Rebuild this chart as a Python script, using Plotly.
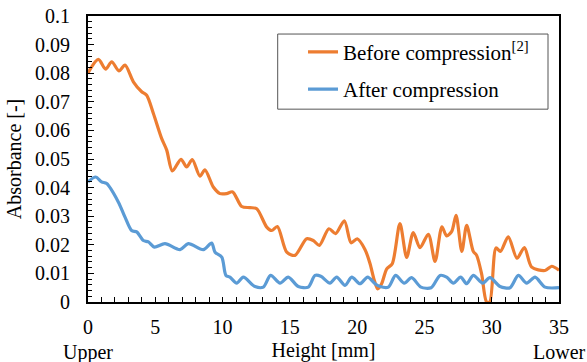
import plotly.graph_objects as go

# Height [mm] and absorbance [-]
before_x = [0, 0.77, 1.31, 1.76, 2.3, 2.75, 3.37, 3.99, 4.36, 4.86, 5.47, 5.85,
            6.27, 6.91, 7.33, 7.75, 8.32, 8.69, 9.31, 9.81, 10.3, 10.75, 11.42, 12.04,
            12.54, 13.28, 13.65, 14.07, 14.77, 15.38, 16.25, 16.74, 17.19, 17.9, 18.4, 19.05,
            19.55, 20.0, 20.58, 20.96, 21.28, 21.53, 21.82, 22.2, 22.61, 23.18, 23.68, 24.17,
            24.67, 25.29, 25.79, 26.3, 26.65, 27.03, 27.35, 27.78, 28.14, 28.63, 28.88, 29.25,
            29.62, 29.85, 30.32, 30.65, 31.23, 31.88, 32.43, 32.97, 33.96, 34.46, 35.0]
before_y = [0.0801, 0.0848, 0.0814, 0.0840, 0.0808, 0.0828, 0.0770, 0.0735, 0.0723, 0.0659, 0.0572, 0.0531,
            0.0458, 0.0499, 0.0472, 0.0498, 0.0440, 0.0462, 0.0402, 0.0379, 0.0379, 0.0385, 0.0334, 0.0330,
            0.0326, 0.0262, 0.0250, 0.0264, 0.0174, 0.0163, 0.0221, 0.0215, 0.0198, 0.0256, 0.0239, 0.0284,
            0.0207, 0.0221, 0.0184, 0.0134, 0.0075, 0.0046, 0.0064, 0.0116, 0.0134, 0.0274, 0.0156, 0.0243,
            0.0190, 0.0237, 0.0142, 0.0263, 0.0231, 0.0247, 0.0303, 0.0177, 0.0268, 0.0177, 0.0163, 0.0098,
            0.0, 0.0, 0.0189, 0.0177, 0.0228, 0.0153, 0.0190, 0.0122, 0.0110, 0.0125, 0.0111]

after_x = [0, 0.57, 1.01, 1.39, 2.25, 2.75, 3.24, 3.62, 4.11, 4.49,
           4.93, 5.72, 6.84, 7.45, 8.57, 9.19, 9.44, 9.94, 10.25, 10.55,
           11.05, 11.54, 12.41, 13.03, 13.57, 14.27, 14.88, 15.63, 16.37, 16.87, 17.3,
           17.98, 18.48, 19.1, 19.6, 20.21, 20.78, 21.33, 21.7, 22.32, 22.86,
           23.5, 24.05, 24.74, 25.5, 26.16, 26.65, 27.15, 27.69, 28.14, 28.63,
           29.33, 29.87, 30.62, 31.36, 31.98, 32.6, 33.22, 33.96, 35.0]
after_y = [0.0420, 0.0437, 0.0420, 0.0414, 0.0350, 0.0297, 0.0250, 0.0245, 0.0215, 0.0210,
           0.0192, 0.0204, 0.0183, 0.0204, 0.0183, 0.0206, 0.0174, 0.0157, 0.0093, 0.0087,
           0.0066, 0.0087, 0.0054, 0.0052, 0.0093, 0.0066, 0.0087, 0.0054, 0.0052, 0.0093, 0.0090,
           0.0066, 0.0087, 0.0058, 0.0087, 0.0064, 0.0087, 0.0064, 0.0054, 0.0052, 0.0093,
           0.0066, 0.0085, 0.0052, 0.0050, 0.0093, 0.0087, 0.0066, 0.0087, 0.0064, 0.0093,
           0.0066, 0.0085, 0.0054, 0.0050, 0.0093, 0.0066, 0.0087, 0.0052, 0.0050]

x_ticks = [0, 5, 10, 15, 20, 25, 30, 35]
y_ticks = [0, 0.01, 0.02, 0.03, 0.04, 0.05, 0.06, 0.07, 0.08, 0.09, 0.1]
y_labels = ["0", "0.01", "0.02", "0.03", "0.04", "0.05", "0.06", "0.07", "0.08", "0.09", "0.1"]

FONT = "Liberation Serif, Times New Roman, serif"
ORANGE = "#ED7D31"
BLUE = "#5B9BD5"
TICK_FONT = dict(family=FONT, size=20, color="black")
TITLE_FONT = dict(family=FONT, size=20, color="black")

fig = go.Figure()
fig.add_trace(go.Scatter(x=before_x, y=before_y, mode="lines", name="Before compression<sup>[2]</sup>",
                         line=dict(color=ORANGE, width=3.2, shape="spline", smoothing=0.8),
                         legendgroup="a"))
fig.add_trace(go.Scatter(x=after_x, y=after_y, mode="lines", name="After compression",
                         line=dict(color=BLUE, width=3.2, shape="spline", smoothing=0.8),
                         legendgroup="b"))

fig.update_layout(
    width=587, height=362,
    margin=dict(l=88, r=28, t=16, b=60),
    paper_bgcolor="white", plot_bgcolor="white",
    font=dict(family=FONT, size=20, color="black"),
    showlegend=True,
    legend=dict(x=0.4565, y=0.945, xanchor="left", yanchor="top",
                borderwidth=0, bgcolor="rgba(0,0,0,0)",
                font=dict(family=FONT, size=21, color="black"), tracegroupgap=7,
                itemwidth=30),
    xaxis=dict(range=[0, 35], tickvals=x_ticks, ticks="inside", ticklen=5, tickwidth=1,
               tickcolor="black", showgrid=False, zeroline=False, automargin=False,
               showline=True, linecolor="black", linewidth=2, mirror=True,
               ticklabelstandoff=6, tickfont=TICK_FONT,
               minor=dict(dtick=1, ticks="inside", ticklen=5, tickcolor="black", tickwidth=1),
               title=dict(text="Height [mm]", standoff=11, font=TITLE_FONT)),
    yaxis=dict(range=[0, 0.1], tickvals=y_ticks, ticktext=y_labels, ticks="inside", ticklen=6,
               tickwidth=1, tickcolor="black", showgrid=False, zeroline=False, automargin=False,
               showline=True, linecolor="black", linewidth=2, mirror=True,
               ticklabelstandoff=12, tickfont=TICK_FONT,
               minor=dict(dtick=0.002, ticks="inside", ticklen=4, tickcolor="black", tickwidth=1),
               title=dict(text="Absorbance [-]", standoff=8, font=TITLE_FONT)),
)

# legend frame
fig.add_shape(type="rect", xref="paper", yref="paper",
              x0=(277.7 - 88) / 471, x1=(548 - 88) / 471,
              y0=(301.5 - 109) / 285.5, y1=(301.5 - 34) / 285.5,
              line=dict(color="#555555", width=1), fillcolor="white", layer="above")

fig.add_annotation(text="Upper", x=0, y=0, xref="x", yref="paper", yshift=-50,
                   showarrow=False, font=TITLE_FONT, xanchor="center", yanchor="middle")
fig.add_annotation(text="Lower", x=35, y=0, xref="x", yref="paper", yshift=-50,
                   showarrow=False, font=TITLE_FONT, xanchor="center", yanchor="middle")

fig.write_html("out.html", config={"displayModeBar": False},
               post_script="document.body.style.margin='0';document.body.style.overflow='hidden';")
